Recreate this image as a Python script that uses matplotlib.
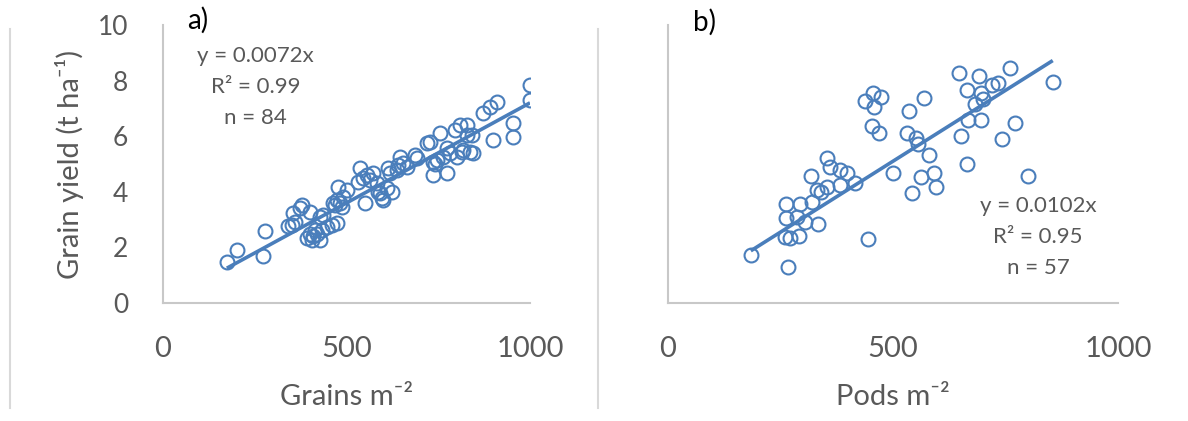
import matplotlib
matplotlib.use("Agg")
import matplotlib.pyplot as plt
from matplotlib.lines import Line2D
import numpy as np

plt.rcParams["font.family"] = ["Lato", "DejaVu Sans"]

# panel a) grains per m2 vs grain yield
grains_x = [174, 202, 272, 278, 341, 351, 360, 355, 373, 378, 401, 392, 405, 401, 410,
            414, 419, 428, 432, 446, 460, 473, 428, 469, 473, 478, 482, 487, 491, 500,
            532, 537, 546, 555, 564, 573, 550, 582, 591, 600, 609, 623, 614, 619, 641,
            646, 655, 664, 691, 718, 727, 736, 736, 755, 764, 773, 782, 796, 800, 809,
            818, 827, 836, 845, 841, 873, 891, 909, 900, 955, 955, 1000, 1000,
            828, 773, 814, 746, 741, 687, 638, 587, 597, 463, 436]
grains_y = [1.49, 1.91, 1.69, 2.60, 2.78, 2.80, 2.93, 3.23, 3.41, 3.53, 3.28, 2.33, 2.27, 2.50, 2.42,
            2.63, 2.50, 2.27, 2.63, 2.74, 2.80, 2.89, 3.10, 3.52, 3.70, 4.18, 3.58, 3.46, 3.82, 4.06,
            4.36, 4.84, 4.48, 4.60, 4.42, 4.66, 3.58, 4.30, 3.94, 3.70, 4.12, 4.00, 4.84, 4.66, 4.96,
            5.26, 5.02, 4.90, 5.20, 5.74, 5.80, 5.08, 4.60, 6.10, 5.26, 4.66, 5.38, 6.22, 5.26, 6.40,
            5.50, 6.40, 5.44, 5.38, 6.04, 6.82, 7.06, 7.24, 5.86, 6.46, 5.98, 7.84, 7.30,
            6.04, 5.58, 5.43, 5.14, 5.00, 5.32, 4.78, 4.00, 3.78, 3.60, 3.17]
grains_slope = 0.0072

# panel b) pods per m2 vs grain yield
pods_x = [184, 266, 262, 293, 262, 286, 304, 334, 261, 271, 292, 319, 317, 330, 341,
          353, 353, 360, 382, 382, 397, 416, 445, 501, 438, 455, 473, 458, 453, 468,
          536, 569, 530, 550, 555, 581, 562, 543, 591, 596, 646, 690, 665, 695, 701,
          682, 719, 734, 759, 855, 667, 695, 650, 742, 771, 665, 799]
pods_y = [1.73, 1.31, 3.56, 3.56, 3.05, 3.10, 2.93, 2.84, 2.36, 2.33, 2.40, 3.62, 4.57, 4.06, 4.00,
          4.18, 5.23, 4.90, 4.24, 4.78, 4.69, 4.30, 2.29, 4.66, 7.27, 7.57, 7.42, 7.04, 6.37, 6.13,
          6.91, 7.36, 6.10, 5.95, 5.72, 5.32, 4.52, 3.97, 4.69, 4.16, 8.26, 8.17, 7.66, 7.57, 7.34,
          7.16, 7.84, 7.90, 8.44, 7.96, 6.60, 6.60, 6.00, 5.89, 6.49, 5.00, 4.58]
pods_slope = 0.0102

x_ticks = [0, 500, 1000]
y_ticks = [0, 2, 4, 6, 8, 10]

BLUE = "#4a7ebb"
GREY_TEXT = "#595959"
SPINE = "#c8c8c8"

fig = plt.figure(figsize=(11.88, 4.21), dpi=100)
ax_a = fig.add_axes([163 / 1188, 118 / 421, 367 / 1188, 278 / 421])
ax_b = fig.add_axes([668 / 1188, 118 / 421, 450 / 1188, 278 / 421])


def style_axis(ax, show_y):
    ax.set_xlim(0, 1000)
    ax.set_ylim(0, 10)
    ax.set_xticks(x_ticks)
    ax.set_yticks(y_ticks)
    for side in ("top", "right"):
        ax.spines[side].set_visible(False)
    for side in ("left", "bottom"):
        ax.spines[side].set_color(SPINE)
        ax.spines[side].set_linewidth(1.5)
    ax.tick_params(length=0, labelcolor=GREY_TEXT)
    ax.tick_params(axis="x", labelsize=21, pad=24)
    ax.tick_params(axis="y", labelsize=19, pad=25)
    if not show_y:
        ax.set_yticklabels([])
    ax.set_facecolor("none")


def scatter_fit(ax, xs, ys, slope):
    xs = np.asarray(xs, dtype=float)
    ax.plot(xs, ys, linestyle="none", marker="o", markersize=10,
            markerfacecolor="none", markeredgecolor=BLUE, markeredgewidth=1.5)
    xline = np.array([xs.min(), xs.max()])
    ax.plot(xline, slope * xline, color=BLUE, linewidth=2.6, solid_capstyle="butt")


scatter_fit(ax_a, grains_x, grains_y, grains_slope)
scatter_fit(ax_b, pods_x, pods_y, pods_slope)
style_axis(ax_a, True)
style_axis(ax_b, False)

ax_a.set_ylabel("Grain yield (t ha⁻¹)", fontsize=21, color=GREY_TEXT)
ax_a.yaxis.set_label_coords(-0.215, 0.5)
ax_a.set_xlabel("Grains m⁻²", fontsize=21, color=GREY_TEXT)
ax_a.xaxis.set_label_coords(0.5, -0.29)
ax_b.set_xlabel("Pods m⁻²", fontsize=21, color=GREY_TEXT)
ax_b.xaxis.set_label_coords(0.5, -0.29)

ax_a.text(0.095, 1.018, "a)", transform=ax_a.transAxes, fontsize=20,
          ha="center", va="center", color="black")
ax_b.text(0.082, 1.011, "b)", transform=ax_b.transAxes, fontsize=20,
          ha="center", va="center", color="black")

for txt, yy in zip(["y = 0.0072x", "R² = 0.99", "n = 84"], [0.888, 0.777, 0.666]):
    ax_a.text(0.253, yy, txt, transform=ax_a.transAxes, fontsize=16,
              ha="center", va="center", color=GREY_TEXT)
for txt, yy in zip(["y = 0.0102x", "R² = 0.95", "n = 57"], [0.349, 0.237, 0.126]):
    ax_b.text(0.822, yy, txt, transform=ax_b.transAxes, fontsize=16,
              ha="center", va="center", color=GREY_TEXT)

# chart-area borders
for xpix in (10, 598):
    fig.add_artist(Line2D([xpix / 1188, xpix / 1188], [1 - 29 / 421, 1 - 408 / 421],
                          color="#d9d9d9", linewidth=1.5, transform=fig.transFigure))

fig.savefig("out.png", dpi=100)
